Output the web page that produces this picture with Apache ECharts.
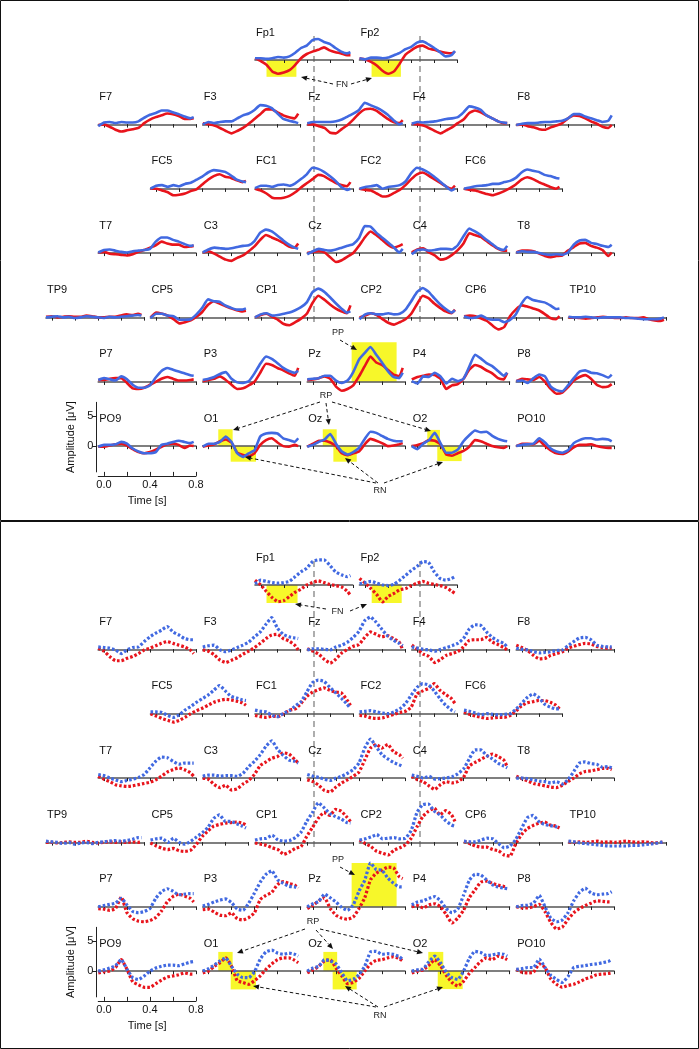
<!DOCTYPE html>
<html>
<head>
<meta charset="utf-8">
<script src="https://cdn.jsdelivr.net/npm/echarts@6/dist/echarts.min.js"></script>
<style>
  html, body { margin: 0; padding: 0; background: #fff; }
  #chart { width: 699px; height: 1049px; }
</style>
</head>
<body>
<div id="chart"></div>
<script>
// sample times (s)
const times = [-0.05, 0, 0.05, 0.1, 0.15, 0.2, 0.25, 0.3, 0.35, 0.4, 0.45, 0.5, 0.55, 0.6, 0.65, 0.7, 0.75, 0.78]
const tickTimes = [0, 0.2, 0.4, 0.6, 0.8]
const timeLabels = [0, 0.4, 0.8]
const ampLabels = [0, 5]

const electrodes = ['Fp1', 'Fp2', 'F7', 'F3', 'Fz', 'F4', 'F8', 'FC5', 'FC1', 'FC2', 'FC6',
  'T7', 'C3', 'Cz', 'C4', 'T8', 'TP9', 'CP5', 'CP1', 'CP2', 'CP6', 'TP10',
  'P7', 'P3', 'Pz', 'P4', 'P8', 'PO9', 'O1', 'Oz', 'O2', 'PO10']

// amplitudes (uV), one row per electrode, same order as above
const topBlue = [
  [0.3, 0.3, 0.2, 0.3, 0.5, 0.4, 0.6, 1.2, 2.0, 2.4, 3.3, 3.5, 3.0, 2.7, 2.0, 1.4, 1.1, 1.3],
  [0.3, 0.1, 0.4, 0.4, 0.3, 0.4, 0.8, 1.2, 1.8, 2.2, 2.9, 3.1, 2.6, 2.0, 1.3, 0.6, 0.8, 1.5],
  [-0.3, 0.3, 0.4, 0.2, 0.4, 0.3, 0.3, 0.5, 1.1, 1.6, 1.9, 2.3, 2.3, 2.0, 1.7, 1.3, 1.0, 1.2],
  [0.0, 0.4, 0.2, 0.4, 0.5, 0.5, 1.0, 1.5, 1.8, 2.4, 3.2, 3.1, 2.7, 1.8, 0.9, 0.6, 0.4, 0.2],
  [0.2, 0.4, 0.4, 0.4, 0.4, 0.5, 0.8, 1.3, 1.8, 2.4, 3.6, 3.2, 2.8, 2.3, 1.6, 0.7, 0.0, 0.2],
  [0.1, 0.4, 0.3, 0.4, 0.5, 0.7, 0.9, 1.0, 1.2, 2.0, 3.0, 2.8, 2.4, 1.5, 1.0, 0.5, 0.3, 0.2],
  [-0.1, 0.1, 0.2, 0.2, 0.3, 0.4, 0.4, 0.5, 0.6, 1.0, 1.7, 1.7, 1.3, 1.0, 0.7, 0.4, 0.6, 1.5],
  [0.0, 0.5, 0.6, 0.3, 0.6, 0.4, 0.8, 1.0, 1.5, 2.0, 2.7, 3.1, 3.0, 2.8, 2.2, 1.5, 1.2, 1.1],
  [0.1, 0.5, 0.5, 0.3, 0.6, 0.7, 0.5, 0.9, 1.6, 2.4, 3.5, 3.3, 2.8, 2.1, 1.3, 0.3, -0.2, 0.0],
  [0.0, 0.3, 0.4, 0.6, 0.0, 0.3, 0.4, 0.6, 1.2, 2.6, 3.5, 3.2, 2.7, 2.0, 1.2, 0.4, -0.3, 0.0],
  [0.0, 0.2, 0.4, 0.5, 0.6, 0.8, 0.8, 1.1, 1.3, 1.8, 2.7, 3.2, 3.0, 2.8, 2.3, 2.1, 1.8, 1.7],
  [0.1, 0.5, 0.6, 0.4, 0.2, 0.1, 0.3, 0.4, 0.5, 0.7, 1.9, 2.6, 2.6, 2.2, 1.9, 1.5, 1.2, 1.3],
  [0.1, 0.6, 0.9, 0.8, 0.7, 0.8, 1.0, 1.2, 1.3, 2.0, 3.4, 3.9, 3.6, 2.9, 2.1, 1.4, 0.9, 0.7],
  [-0.2, 0.3, 0.7, 0.5, 0.4, 0.6, 0.9, 1.2, 1.5, 2.5, 4.5, 4.4, 3.4, 2.6, 1.8, 1.0, 0.1, 0.7],
  [-0.2, 0.5, 0.6, 0.4, 0.5, 0.7, 0.7, 0.6, 1.3, 2.8, 4.1, 3.6, 3.0, 2.2, 1.5, 0.8, 0.5, 1.2],
  [0.1, 0.3, 0.2, 0.2, 0.0, -0.2, -0.3, -0.2, -0.3, 0.1, 1.4, 2.1, 2.2, 1.7, 1.5, 1.2, 1.0, 1.4],
  [0.0, 0.1, 0.2, 0.0, 0.1, -0.1, 0.0, 0.2, 0.1, 0.0, -0.1, 0.1, 0.0, 0.1, 0.2, 0.3, 0.4, 0.3],
  [-0.1, 0.6, 0.6, 0.3, 0.2, -0.4, -0.4, -0.3, 0.5, 1.6, 3.0, 2.7, 2.6, 2.0, 1.6, 1.3, 1.3, 1.5],
  [0.0, 0.5, 0.7, 0.3, 0.4, 0.6, 0.8, 1.2, 1.7, 2.5, 4.2, 4.8, 4.3, 3.4, 2.4, 1.5, 0.8, 1.0],
  [-0.3, 0.5, 0.7, 0.5, 0.5, 0.7, 0.5, 0.6, 1.3, 2.7, 4.2, 4.9, 4.3, 3.2, 2.2, 1.4, 0.8, 1.2],
  [0.2, -0.1, 0.0, 0.3, -0.2, -0.4, -0.4, -0.8, -0.4, 0.5, 2.3, 3.4, 2.9, 2.7, 2.5, 2.0, 1.4, 1.5],
  [0.1, 0.0, 0.0, 0.1, 0.0, -0.1, 0.0, 0.0, 0.0, 0.0, -0.1, -0.1, -0.2, -0.3, -0.3, -0.3, -0.2, 0.0],
  [0.3, 0.6, 0.4, 0.2, 0.9, 0.4, -0.5, -1.0, -1.0, -0.6, 0.7, 1.8, 2.3, 2.0, 1.7, 1.4, 1.1, 1.0],
  [0.3, 0.5, 0.8, 1.3, 1.6, 0.5, -0.1, -0.2, 0.1, 1.4, 3.0, 4.2, 3.8, 3.1, 2.3, 1.8, 1.5, 1.8],
  [0.4, 0.5, 0.6, 1.0, 1.0, 0.2, -0.2, 0.2, 1.6, 3.7, 4.8, 5.8, 4.5, 3.2, 1.8, 0.8, 0.6, 1.5],
  [0.1, -0.3, 0.9, 0.8, 1.5, 0.9, -0.3, 0.5, 0.1, 0.5, 2.5, 4.5, 3.9, 3.1, 2.6, 1.8, 1.0, 1.5],
  [0.1, 0.2, -0.2, 0.6, 1.2, 0.9, -0.8, -1.4, -1.6, -0.6, 0.6, 1.7, 1.9, 1.5, 1.4, 1.1, 0.7, 1.2],
  [-0.1, 0.2, 0.2, 0.3, 0.7, 0.4, -0.4, -0.9, -1.2, -1.2, -1.0, 0.2, 0.4, 0.7, 0.9, 0.7, 0.5, 0.7],
  [-0.1, 0.4, 0.4, 0.7, 1.6, 0.7, -1.2, -1.8, -1.2, -0.7, 1.6, 2.1, 2.2, 2.1, 1.3, 1.0, 0.7, 1.3],
  [-0.1, 0.2, 0.7, 1.1, 2.0, 0.4, -0.9, -1.4, -1.0, -0.3, 1.2, 2.4, 2.2, 1.7, 1.2, 0.9, 0.8, 0.8],
  [0.0, -0.5, 0.4, 1.0, 2.2, 0.5, -1.1, -1.1, -0.6, 0.8, 1.8, 2.6, 2.3, 2.4, 1.7, 1.2, 0.9, 0.8],
  [0.0, 0.2, 0.3, 0.4, 1.3, 0.6, -0.4, -0.9, -1.1, -0.7, 0.5, 1.0, 1.3, 1.3, 1.1, 1.2, 1.1, 0.8]
]

const topRed = [
  [0.3, -0.2, -0.8, -1.9, -2.3, -2.1, -1.7, -0.8, 0.3, 1.0, 1.4, 1.7, 2.1, 1.6, 1.3, 1.1, 0.8, 0.8],
  [0.3, 0.1, -0.3, -0.9, -1.8, -2.3, -1.9, -0.6, 0.9, 1.6, 2.2, 2.4, 1.9, 1.7, 1.4, 1.2, 1.1, 1.4],
  [-0.1, 0.0, -0.4, -0.9, -1.2, -1.0, -0.8, -0.6, 0.2, 0.8, 1.2, 1.5, 1.8, 1.7, 1.4, 0.9, 0.9, 1.0],
  [0.2, 0.0, -0.2, -0.6, -1.1, -1.5, -1.1, -0.6, 0.1, 0.9, 1.7, 2.5, 2.5, 2.0, 1.5, 1.2, 1.0, 1.8],
  [0.0, 0.0, -0.3, -0.6, -1.4, -1.5, -0.8, -0.1, 0.8, 1.8, 2.5, 2.6, 2.3, 1.6, 0.9, 0.4, 0.2, 0.7],
  [0.1, 0.0, -0.2, -0.6, -1.1, -1.5, -1.0, -0.5, 0.2, 0.8, 1.9, 2.3, 2.0, 1.5, 1.0, 0.5, 0.2, 0.2],
  [-0.1, 0.0, -0.3, -0.5, -0.8, -0.9, -0.5, -0.2, 0.2, 1.0, 1.5, 1.4, 1.0, 0.5, 0.1, -0.4, -0.6, -0.1],
  [0.0, 0.0, -0.3, -0.6, -1.1, -1.0, -0.8, -0.4, -0.1, 0.7, 1.5, 2.1, 2.4, 2.0, 1.8, 1.4, 1.1, 1.3],
  [0.0, -0.3, -0.8, -1.5, -1.6, -1.5, -1.2, -0.6, 0.2, 0.9, 1.6, 2.3, 2.1, 1.5, 1.0, 0.6, 0.4, 1.1],
  [0.0, -0.2, -0.3, -0.8, -1.3, -1.2, -0.7, -0.2, 0.6, 1.6, 2.4, 2.7, 2.2, 1.6, 1.0, 0.4, 0.0, 0.5],
  [0.0, -0.2, -0.3, -0.6, -0.9, -1.1, -0.8, -0.4, 0.1, 0.7, 1.5, 1.9, 1.6, 1.1, 0.7, 0.3, 0.0, 0.3],
  [0.1, 0.2, -0.1, -0.2, -0.3, -0.4, -0.2, 0.2, 0.5, 0.9, 1.3, 1.9, 1.6, 1.4, 1.4, 1.0, 1.1, 1.2],
  [0.1, 0.3, -0.1, -0.6, -1.1, -1.3, -0.8, -0.4, 0.3, 1.1, 2.2, 3.0, 2.6, 2.2, 1.7, 1.1, 0.9, 1.6],
  [0.0, 0.2, 0.3, 0.1, -0.7, -1.5, -1.2, -0.6, 0.0, 1.2, 2.6, 3.6, 3.0, 2.2, 1.4, 0.9, 1.2, 1.5],
  [0.1, 0.6, 0.8, 0.1, -0.4, -1.1, -0.9, -0.3, 0.5, 1.6, 3.3, 3.0, 2.7, 2.0, 1.3, 0.7, 0.4, 0.4],
  [0.1, 0.4, 0.4, 0.3, -0.1, -0.5, -0.7, -0.5, -0.4, 0.4, 1.0, 1.6, 1.7, 1.2, 0.9, 0.5, -0.5, 0.1],
  [0.1, 0.2, 0.0, 0.1, 0.2, 0.1, 0.1, 0.3, 0.2, 0.0, 0.0, 0.1, 0.1, 0.3, 0.5, 0.4, 0.6, 0.4],
  [0.0, 0.8, 0.6, 0.3, -0.3, -1.0, -0.8, -0.5, 0.1, 0.9, 2.1, 2.7, 2.3, 1.9, 1.5, 1.2, 1.0, 1.1],
  [0.0, 0.4, 0.6, 0.1, -0.4, -1.1, -1.3, -0.8, -0.2, 0.6, 2.4, 3.6, 3.0, 2.2, 1.5, 1.0, 0.7, 2.0],
  [0.0, 0.3, 0.7, 0.4, -0.3, -0.9, -1.2, -0.8, -0.3, 0.6, 2.2, 3.6, 3.2, 2.3, 1.6, 1.0, 0.7, 1.3],
  [0.2, 0.3, 0.2, -0.2, -0.6, -1.4, -2.0, -1.6, 0.2, 1.3, 2.0, 1.8, 1.5, 1.2, 0.6, -0.1, -0.3, 0.2],
  [0.0, 0.0, -0.1, -0.2, -0.1, 0.0, 0.1, 0.0, -0.1, -0.1, 0.0, -0.1, -0.1, 0.0, -0.3, -0.5, -0.6, -0.4],
  [0.3, 0.3, 0.5, 0.6, 0.6, -0.2, -1.1, -1.2, -1.0, -0.5, 0.0, 0.5, 0.8, 0.5, 0.2, 0.2, 0.3, 0.4],
  [0.1, 0.3, 0.5, 0.9, 0.3, -0.5, -1.2, -1.1, -0.6, 0.0, 1.5, 3.0, 2.8, 2.3, 1.9, 1.4, 1.0, 2.3],
  [0.3, 0.4, 0.6, 0.9, 0.5, -0.8, -1.5, -1.2, -0.6, 0.9, 2.6, 4.2, 3.2, 2.8, 2.0, 1.2, 0.9, 2.3],
  [0.4, 0.8, 1.0, 1.2, 1.1, 0.5, -1.2, -0.6, -0.4, 0.5, 2.0, 2.8, 2.5, 1.9, 1.4, 0.6, 0.4, 1.5],
  [0.1, 0.5, 0.4, 0.3, 0.8, 0.0, -1.2, -2.0, -1.8, -0.9, 0.2, 0.8, 1.1, 0.5, -0.5, -0.9, -0.8, -0.4],
  [-0.1, -0.1, 0.1, 0.3, 0.4, 0.1, -0.5, -1.0, -1.2, -1.0, -0.6, -0.1, 0.3, 0.4, 0.2, -0.3, 0.1, 0.0],
  [-0.1, 0.1, 0.3, 0.8, 1.1, 0.6, -1.1, -1.5, -1.7, -1.2, 0.2, 1.0, 1.3, 0.6, 0.0, -0.1, 0.2, 0.0],
  [-0.1, 0.4, 0.9, 0.9, 0.6, 0.0, -1.2, -1.5, -1.2, -0.9, 0.3, 1.2, 0.9, 0.5, 0.0, 0.1, 0.3, 0.5],
  [0.0, 0.2, 0.5, 1.0, 0.9, 0.3, -1.4, -1.6, -1.2, -0.8, -0.1, 1.0, 0.8, 0.4, 0.0, -0.2, -0.3, 0.0],
  [0.0, 0.4, 0.4, 0.3, 0.9, 0.0, -0.7, -1.2, -1.3, -0.9, -0.2, 0.2, 0.2, 0.3, 0.0, -0.2, -0.3, -0.3]
]

const bottomBlue = [
  [0.2, 0.8, 0.6, 0.4, 0.3, 0.4, 0.6, 1.4, 2.2, 2.8, 3.9, 4.2, 4.2, 3.3, 2.2, 1.7, 1.4, 1.6],
  [0.2, 0.4, 0.6, 0.3, 0.0, -0.1, 0.1, 0.8, 1.6, 2.4, 3.1, 3.9, 3.8, 2.2, 1.1, 0.8, 1.1, 1.4],
  [0.4, 0.3, 0.2, -0.1, -0.7, -0.1, 0.3, 0.4, 1.3, 2.1, 2.7, 3.2, 3.8, 2.9, 2.4, 1.8, 1.6, 1.6],
  [0.4, 0.6, 0.7, -0.1, -0.4, -0.1, 0.3, 0.7, 1.2, 2.1, 2.9, 4.2, 5.3, 3.5, 2.5, 2.1, 1.9, 1.8],
  [-0.1, 0.1, 0.1, 0.0, -0.1, 0.4, 0.7, 1.2, 2.0, 3.0, 4.8, 5.4, 4.5, 3.3, 2.2, 1.5, 1.0, 0.6],
  [0.4, 0.2, 0.0, -0.1, -0.3, 0.0, 0.3, 0.6, 1.0, 1.8, 3.4, 4.1, 4.0, 2.9, 2.0, 1.4, 1.0, 0.4],
  [0.2, 0.0, -0.1, -0.4, -0.6, -0.5, -0.4, -0.2, -0.1, 0.6, 1.3, 1.9, 2.0, 1.6, 0.7, 0.5, 0.4, 0.4],
  [0.3, 0.3, 0.2, -0.3, -0.6, -0.2, 0.6, 1.2, 1.9, 2.5, 3.1, 3.9, 4.7, 3.8, 2.9, 2.6, 2.3, 2.2],
  [0.6, 0.4, 0.3, -0.3, -0.5, 0.1, 0.5, 1.3, 2.0, 3.6, 5.2, 5.6, 5.4, 4.4, 3.5, 2.6, 1.6, 0.9],
  [0.3, 0.4, 0.5, 0.3, 0.1, 0.0, 0.3, 0.8, 1.7, 3.1, 4.4, 5.0, 4.8, 3.8, 2.5, 1.4, 0.6, 0.3],
  [0.6, 0.4, 0.1, -0.2, 0.0, -0.1, -0.2, -0.1, 0.0, 0.7, 1.7, 2.7, 3.3, 2.7, 1.6, 1.1, 0.8, 0.8],
  [0.6, 0.4, 0.0, -0.3, -0.6, -0.4, -0.2, 0.1, 0.6, 1.7, 2.8, 3.5, 3.4, 2.8, 2.3, 2.5, 2.5, 2.5],
  [0.3, 0.5, 0.5, 0.3, 0.4, 0.4, 0.3, 0.8, 1.9, 2.8, 3.9, 5.3, 6.2, 4.8, 3.8, 3.0, 2.8, 2.5],
  [0.6, 0.3, 0.1, -0.2, -0.4, 0.0, 0.3, 0.8, 1.4, 2.5, 5.0, 6.5, 5.2, 3.9, 3.2, 2.6, 2.2, 1.9],
  [0.5, 0.3, 0.0, 0.3, -0.2, -0.1, 0.0, 0.2, 0.7, 1.5, 3.2, 4.7, 4.7, 3.8, 3.2, 2.5, 2.0, 1.7],
  [0.0, 0.0, -0.1, -0.3, -0.5, -0.6, -0.8, -0.6, -1.0, -0.3, 1.1, 2.5, 2.7, 2.4, 2.3, 1.8, 1.9, 1.7],
  [0.2, 0.1, 0.0, -0.2, 0.0, -0.3, -0.1, 0.0, -0.2, 0.0, 0.1, 0.2, 0.3, 0.2, 0.3, 0.5, 0.8, 0.8],
  [0.4, 0.6, 0.7, 0.0, 0.7, 0.0, -0.3, 0.2, 0.9, 1.6, 2.5, 4.0, 4.6, 3.5, 3.5, 3.1, 2.7, 2.4],
  [0.4, 0.6, 0.7, 1.2, 0.4, 0.2, 0.3, 0.8, 1.7, 3.5, 5.0, 6.6, 5.8, 4.8, 4.3, 3.9, 3.3, 3.2],
  [0.4, 0.6, 0.9, 1.3, 0.6, 0.7, 0.8, 0.6, 0.7, 2.0, 5.0, 6.3, 6.4, 5.2, 4.6, 3.6, 2.9, 2.7],
  [0.2, 0.1, 0.1, 0.4, 0.7, 0.6, -0.2, -0.9, -0.6, 0.5, 2.3, 4.1, 4.5, 3.5, 3.0, 2.8, 2.6, 2.4],
  [0.2, 0.1, -0.1, -0.2, -0.3, -0.4, -0.5, -0.6, -0.6, -0.6, -0.6, -0.5, -0.5, -0.4, -0.3, -0.2, 0.0, 0.1],
  [0.0, 0.2, 0.4, 0.6, 1.4, 0.3, -0.8, -1.0, -0.8, -0.3, 1.4, 2.5, 3.0, 2.6, 2.0, 2.1, 2.2, 2.2],
  [0.1, 0.4, 0.8, 1.1, 1.3, 0.7, -0.4, -0.6, 0.6, 2.3, 4.1, 5.4, 6.0, 4.5, 3.9, 3.4, 3.3, 3.1],
  [0.0, 0.5, 0.9, 2.1, 1.5, 0.8, -0.1, -0.6, 0.3, 2.6, 4.4, 7.3, 6.2, 6.1, 4.8, 3.9, 3.3, 3.3],
  [0.3, 0.8, 1.0, 1.4, 1.7, 1.0, -0.3, -1.0, -0.4, 1.9, 4.4, 5.4, 5.3, 4.5, 3.7, 3.3, 3.1, 3.0],
  [0.0, 0.2, 0.3, 0.6, 1.9, 0.0, -1.9, -2.5, -2.2, -1.0, 1.0, 2.4, 3.1, 2.3, 2.0, 2.1, 2.2, 2.5],
  [0.0, 0.2, 0.5, 0.9, 1.9, 0.3, -1.1, -1.4, -0.8, 0.0, 0.5, 0.8, 1.0, 1.0, 0.9, 1.2, 1.5, 1.6],
  [0.0, 0.4, 1.0, 1.7, 2.2, 0.8, -0.5, -1.1, -1.1, -0.1, 2.0, 3.2, 3.5, 3.0, 2.8, 3.0, 2.8, 2.5],
  [0.0, 0.5, 0.8, 1.9, 1.7, 1.2, -0.3, -1.6, -1.4, -0.6, 0.8, 3.2, 3.3, 2.8, 2.9, 2.8, 2.4, 1.9],
  [0.0, 0.2, 0.4, 1.6, 2.5, 1.4, -0.2, -1.1, -1.4, 0.0, 2.1, 3.3, 3.1, 2.6, 2.7, 2.9, 2.8, 2.5],
  [0.3, 0.4, 0.6, 0.6, 2.0, 0.6, -0.7, -1.4, -1.9, -0.9, 0.6, 0.8, 0.9, 1.1, 1.2, 1.4, 1.6, 1.9]
]

const bottomRed = [
  [0.8, 0.0, -1.1, -2.1, -2.8, -2.6, -1.9, -1.2, -0.7, 0.0, 0.4, 0.7, 0.4, 0.1, -0.1, -0.3, -1.0, -1.7],
  [1.1, 0.3, -0.6, -1.6, -2.8, -1.9, -1.4, -0.8, -0.6, -0.1, 0.3, 0.6, 0.3, 0.1, -0.1, -0.4, -1.0, -1.4],
  [0.2, -0.3, -1.2, -1.9, -1.9, -1.5, -1.2, -0.7, -0.1, 0.2, 0.6, 1.0, 1.3, 1.0, 0.7, 0.4, -0.1, -0.7],
  [-0.1, -0.3, -0.9, -1.8, -2.2, -1.8, -1.4, -0.8, -0.3, 0.3, 1.0, 1.8, 2.4, 2.5, 1.8, 1.4, 0.7, -0.1],
  [0.1, -0.3, -0.8, -1.7, -2.3, -1.6, -0.6, 0.0, 0.5, 0.8, 2.0, 2.9, 2.5, 2.1, 2.3, 1.8, 1.2, -0.1],
  [0.7, 0.0, -0.8, -1.2, -2.2, -1.7, -1.0, -0.7, -0.4, 0.4, 1.5, 1.6, 1.6, 2.0, 1.2, 0.8, 0.3, -0.1],
  [0.7, 0.3, -0.2, -1.0, -1.6, -1.5, -1.0, -0.7, -0.4, 0.2, 0.5, 0.8, 1.0, 0.9, 0.5, 0.3, 0.2, 0.2],
  [0.0, -0.4, -0.8, -1.1, -1.4, -1.1, -0.6, 0.0, 0.5, 0.9, 1.4, 1.9, 2.2, 2.4, 2.3, 2.1, 1.8, 1.4],
  [-0.3, -0.5, -0.6, -0.4, -0.5, 0.0, 0.6, 0.8, 1.7, 2.9, 3.6, 4.0, 4.3, 3.9, 3.6, 3.5, 2.3, 1.4],
  [-0.3, -0.4, -0.7, -0.8, -0.7, -0.4, -0.1, 0.2, 0.4, 1.1, 3.3, 3.8, 4.2, 5.0, 3.9, 3.2, 2.5, 1.7],
  [0.3, -0.1, -0.4, -0.6, -0.8, -0.7, -0.6, -0.6, -0.3, 0.4, 1.3, 1.8, 2.0, 2.2, 2.2, 1.9, 1.4, 0.8],
  [0.3, -0.2, -0.6, -1.1, -1.3, -1.4, -1.3, -1.1, -0.9, -0.7, -0.3, 0.3, 1.0, 1.4, 1.7, 1.4, 0.9, 0.3],
  [0.0, -0.2, -1.1, -1.6, -1.2, -2.0, -1.8, -1.0, -0.4, 0.6, 2.1, 2.7, 3.3, 3.6, 4.2, 4.0, 3.1, 2.5],
  [-0.3, -0.6, -1.2, -2.1, -2.3, -1.5, -0.8, -0.3, 0.3, 1.0, 3.0, 5.0, 5.6, 5.0, 5.6, 4.4, 3.9, 3.3],
  [0.3, -0.3, -0.6, -1.3, -1.9, -1.1, -0.6, -0.8, -0.6, 0.1, 2.0, 2.6, 3.1, 3.6, 4.0, 3.6, 3.0, 1.9],
  [0.3, -0.1, -0.5, -0.9, -1.1, -1.3, -1.5, -1.6, -1.2, -0.6, 0.0, 0.7, 1.1, 1.2, 1.4, 1.6, 1.6, 1.4],
  [0.0, 0.0, -0.1, 0.0, 0.1, 0.0, 0.0, 0.2, 0.0, -0.1, 0.0, 0.1, 0.0, 0.1, 0.0, 0.1, 0.0, 0.1],
  [-0.1, -0.6, -1.0, -1.2, -1.0, -1.4, -1.5, -1.3, -0.3, 1.0, 1.9, 2.7, 3.0, 3.2, 3.3, 3.4, 3.2, 2.9],
  [-0.1, -0.3, -0.5, -0.9, -1.2, -2.0, -1.6, -1.0, -0.7, 1.0, 2.5, 4.0, 5.0, 4.5, 5.5, 5.2, 4.2, 3.5],
  [0.4, -0.2, -0.7, -1.5, -1.8, -2.1, -1.3, -0.9, -0.4, 0.7, 2.6, 4.3, 5.2, 5.7, 4.6, 5.3, 4.6, 3.5],
  [0.2, -0.2, -0.6, -0.8, -0.8, -1.2, -1.4, -2.1, -2.3, -0.2, 1.3, 2.3, 2.8, 3.2, 3.4, 2.9, 2.7, 2.4],
  [0.1, 0.0, 0.1, 0.0, 0.1, 0.2, 0.0, 0.1, 0.0, 0.1, 0.2, 0.1, 0.0, 0.1, 0.0, -0.1, 0.0, 0.1],
  [-0.3, -0.4, -0.6, -0.3, 1.6, -1.0, -2.0, -2.4, -2.5, -2.3, -1.8, -0.7, 0.8, 1.7, 2.1, 1.8, 1.4, 0.8],
  [-0.5, -0.4, -0.9, -1.4, -1.5, -1.0, -2.0, -2.2, -1.8, -1.0, 1.2, 1.9, 2.4, 3.7, 4.2, 3.9, 3.6, 3.1],
  [-0.3, 0.2, 1.0, 1.5, -0.3, -1.4, -1.9, -2.1, -1.7, -0.3, 1.5, 4.5, 5.6, 6.1, 6.6, 6.5, 5.0, 4.7],
  [0.0, 0.2, -0.2, 0.3, 0.5, 0.0, -1.3, -2.7, -1.9, -0.6, 1.5, 2.8, 4.1, 4.3, 3.9, 3.6, 3.4, 3.3],
  [0.0, -0.2, -0.2, 0.0, 0.4, -0.8, -2.6, -3.7, -3.4, -2.1, -1.0, -0.3, 0.2, 0.6, 1.0, 0.9, 0.8, 0.8],
  [-0.3, -0.1, 0.0, 0.6, 1.9, 0.3, -1.8, -2.3, -2.7, -2.7, -2.1, -1.5, -1.0, -0.8, -0.6, -0.3, -0.5, -0.5],
  [-0.3, 0.0, 0.8, 1.4, 2.2, 0.8, -1.6, -1.9, -2.2, -1.6, -0.8, 0.3, 1.2, 1.9, 2.2, 2.2, 1.8, 1.4],
  [-0.3, 0.2, 0.8, 1.7, 1.9, 0.5, -0.8, -2.1, -1.9, -1.2, 0.0, 1.2, 1.8, 1.9, 2.2, 2.4, 2.1, 1.7],
  [-0.3, 0.0, 0.2, 1.0, 1.9, 0.9, -0.7, -1.9, -2.5, -1.7, -0.4, 0.6, 1.6, 2.2, 1.9, 2.5, 2.2, 1.9],
  [0.3, -0.2, -0.3, -0.2, 1.2, 0.6, -1.3, -2.2, -2.7, -2.4, -2.2, -1.8, -1.3, -1.0, -0.6, -0.5, -0.4, -0.3]
]

// highlighted windows: electrode, t0, t1, amplitude edge (0 is the other edge)
const topBoxes = [
  ['Fp1', 0.05, 0.31, -2.8], ['Fp2', 0.055, 0.31, -2.8], ['Pz', 0.336, 0.727, 6.6],
  ['O1', 0.085, 0.21, 2.8], ['O1', 0.193, 0.413, -2.6],
  ['Oz', 0.085, 0.206, 2.8], ['Oz', 0.177, 0.38, -2.6],
  ['O2', 0.085, 0.195, 2.7], ['O2', 0.172, 0.384, -2.5]
]
const bottomBoxes = [
  ['Fp1', 0.05, 0.32, -3.0], ['Fp2', 0.056, 0.317, -3.0], ['Pz', 0.336, 0.727, 8.6],
  ['O1', 0.085, 0.21, 3.2], ['O1', 0.193, 0.413, -3.05],
  ['Oz', 0.09, 0.21, 3.2], ['Oz', 0.171, 0.38, -3.05],
  ['O2', 0.094, 0.224, 3.2], ['O2', 0.176, 0.393, -3.0]
]

// ---- layout (pixels) ----
// head-map position: column in half steps, row
const colPos = [4, 6, 1, 3, 5, 7, 9, 2, 4, 6, 8, 1, 3, 5, 7, 9, 0, 2, 4, 6, 8, 10, 1, 3, 5, 7, 9, 1, 3, 5, 7, 9]
const rowPos = [0, 0, 1, 1, 1, 1, 1, 2, 2, 2, 2, 3, 3, 3, 3, 3, 4, 4, 4, 4, 4, 4, 5, 5, 5, 5, 5, 6, 6, 6, 6, 6]
const COL0 = 46
const COL_STEP = 52.25
const PLOT_W = 97.75
const ROW_STEP = 64.35
const PANEL_ZERO = [60, 585]
const PX = 6 // px per uV
const Y_MIN = -4.3
const Y_MAX = 7.3
const BLUE = '#4169e1'
const RED = '#e8141c'
const FONT = '"Liberation Sans", Arial, Helvetica, sans-serif'

const grids = []
const xAxes = []
const yAxes = []
const series = []
const graphics = []

function addPlot(panel, k) {
  const name = electrodes[k]
  const zeroY = PANEL_ZERO[panel] + ROW_STEP * rowPos[k]
  const left = COL0 + COL_STEP * colPos[k]
  const g = grids.length
  const isAxisPlot = name === 'PO9'
  grids.push({ left: left, top: zeroY - Y_MAX * PX, width: PLOT_W, height: (Y_MAX - Y_MIN) * PX })

  const yi = yAxes.length
  yAxes.push({
    gridIndex: g, type: 'value', min: Y_MIN, max: Y_MAX,
    show: isAxisPlot, offset: 2,
    axisLine: { show: true, onZero: false, lineStyle: { color: '#222', width: 1 } },
    axisTick: { show: true, length: 4, customValues: ampLabels, lineStyle: { color: '#222' } },
    axisLabel: { customValues: ampLabels, margin: 3, fontSize: 11, color: '#111', fontFamily: FONT },
    splitLine: { show: false },
    name: isAxisPlot ? 'Amplitude [\u03bcV]' : '',
    nameLocation: 'middle', nameGap: 20,
    nameTextStyle: { fontSize: 11, color: '#111', fontFamily: FONT }
  })

  // zero line, ticks pointing down
  const xi = xAxes.length
  xAxes.push({
    gridIndex: g, type: 'value', min: -0.05, max: 0.8, z: 2,
    axisLine: { onZero: true, onZeroAxisIndex: yi, lineStyle: { color: '#555', width: 1.6 } },
    axisTick: { length: 3, customValues: tickTimes, lineStyle: { color: '#222', width: 1 } },
    axisLabel: { show: false }, splitLine: { show: false }
  })
  // same ticks pointing up
  xAxes.push({
    gridIndex: g, type: 'value', min: -0.05, max: 0.8, z: 2,
    axisLine: { onZero: true, onZeroAxisIndex: yi, lineStyle: { color: 'rgba(0,0,0,0)' } },
    axisTick: { inside: true, length: 3, customValues: tickTimes, lineStyle: { color: '#222', width: 1 } },
    axisLabel: { show: false }, splitLine: { show: false }
  })
  if (isAxisPlot) {
    xAxes.push({
      gridIndex: g, type: 'value', min: -0.05, max: 0.8, position: 'bottom', offset: 4,
      axisLine: { onZero: false, lineStyle: { color: '#222', width: 1 } },
      axisTick: { inside: true, length: 4, customValues: tickTimes, lineStyle: { color: '#222' } },
      axisLabel: { customValues: timeLabels, formatter: v => v.toFixed(1), fontSize: 11, color: '#111', margin: 4, fontFamily: FONT },
      splitLine: { show: false },
      name: 'Time [s]', nameLocation: 'middle', nameGap: 20,
      nameTextStyle: { fontSize: 11, color: '#111', fontFamily: FONT }
    })
  }

  const boxes = (panel === 0 ? topBoxes : bottomBoxes).filter(b => b[0] === name)
  if (boxes.length) {
    series.push({
      type: 'line', xAxisIndex: xi, yAxisIndex: yi, data: [], z: 1, silent: true,
      markArea: {
        silent: true,
        itemStyle: { color: '#f7f72a', opacity: 1 },
        data: boxes.map(b => [{ xAxis: b[1], yAxis: 0 }, { xAxis: b[2], yAxis: b[3] }])
      }
    })
  }

  const dotted = panel === 1
  const lineStyle = c => dotted
    ? { color: c, width: 3.2, type: [2.6, 2.0] }
    : { color: c, width: 2.6 }
  const red = panel === 0 ? topRed[k] : bottomRed[k]
  const blue = panel === 0 ? topBlue[k] : bottomBlue[k]
  series.push({
    type: 'line', xAxisIndex: xi, yAxisIndex: yi, z: 3, showSymbol: false, silent: true,
    clip: false, smooth: 0.15, lineStyle: lineStyle(RED),
    data: times.map((t, i) => [t, red[i]])
  })
  series.push({
    type: 'line', xAxisIndex: xi, yAxisIndex: yi, z: 4, showSymbol: false, silent: true,
    clip: false, smooth: 0.15, lineStyle: lineStyle(BLUE),
    data: times.map((t, i) => [t, blue[i]])
  })

  graphics.push({
    type: 'text', x: left + 1, y: zeroY - 27.5, z: 5,
    style: { text: name, font: '11px ' + FONT, fill: '#111', textVerticalAlign: 'middle' }
  })
}

for (let p = 0; p < 2; p++) {
  for (let k = 0; k < electrodes.length; k++) addPlot(p, k)
}

// ---- annotations ----
function arrow(x1, y1, x2, y2) {
  const a = Math.atan2(y2 - y1, x2 - x1)
  const L = 6
  const W = 2.6
  const bx = x2 - L * Math.cos(a)
  const by = y2 - L * Math.sin(a)
  graphics.push({
    type: 'line', z: 6, silent: true,
    shape: { x1: x1, y1: y1, x2: bx, y2: by },
    style: { stroke: '#111', lineWidth: 1, lineDash: [3.5, 2.5] }
  })
  graphics.push({
    type: 'polygon', z: 6, silent: true,
    shape: { points: [[x2, y2], [bx - W * Math.sin(a), by + W * Math.cos(a)], [bx + W * Math.sin(a), by - W * Math.cos(a)]] },
    style: { fill: '#111' }
  })
}
function note(text, x, y) {
  graphics.push({
    type: 'text', x: x, y: y, z: 6, silent: true,
    style: { text: text, font: '9px ' + FONT, fill: '#222', textAlign: 'center', textVerticalAlign: 'middle' }
  })
}
function vdash(x, y1, y2) {
  graphics.push({
    type: 'line', z: 1, silent: true,
    shape: { x1: x, y1: y1, x2: x, y2: y2 },
    style: { stroke: '#9a9a9a', lineWidth: 1.6, lineDash: [6, 4] }
  })
}

// top panel
vdash(314, 36, 326)
vdash(420, 36, 326)
note('FN', 342, 85)
arrow(333, 84, 301, 77)
arrow(351, 84, 372, 78)
note('PP', 338, 333)
arrow(340, 340, 357, 350)
note('RP', 326, 396)
arrow(320, 402, 233, 430)
arrow(326, 403, 329, 425)
arrow(332, 402, 431, 431)
note('RN', 380, 491)
arrow(376, 483, 245, 457)
arrow(378, 483, 345, 458)
arrow(384, 483, 443, 462)

// bottom panel
vdash(314, 561, 851)
vdash(420, 561, 851)
note('FN', 337.5, 611.7)
arrow(326, 609, 295, 604)
arrow(350, 611, 367, 604)
note('PP', 338, 860)
arrow(340, 867, 355, 875)
note('RP', 313, 922)
arrow(305, 929, 237, 953)
arrow(316, 930, 333, 949)
arrow(320, 929, 423, 953)
note('RN', 380, 1016)
arrow(376, 1007, 253, 986)
arrow(378, 1007, 345, 986)
arrow(384, 1007, 443, 987)

// panel frames
graphics.push({ type: 'rect', z: 7, silent: true, shape: { x: 0.5, y: 0.5, width: 698, height: 520 }, style: { fill: 'none', stroke: '#111', lineWidth: 1 } })
graphics.push({ type: 'rect', z: 7, silent: true, shape: { x: 0.5, y: 521.5, width: 698, height: 527 }, style: { fill: 'none', stroke: '#111', lineWidth: 1 } })

const chart = echarts.init(document.getElementById('chart'), null, { renderer: 'canvas' })
chart.setOption({
  backgroundColor: '#ffffff',
  animation: false,
  grid: grids,
  xAxis: xAxes,
  yAxis: yAxes,
  series: series,
  graphic: { elements: graphics }
})
</script>
</body>
</html>
